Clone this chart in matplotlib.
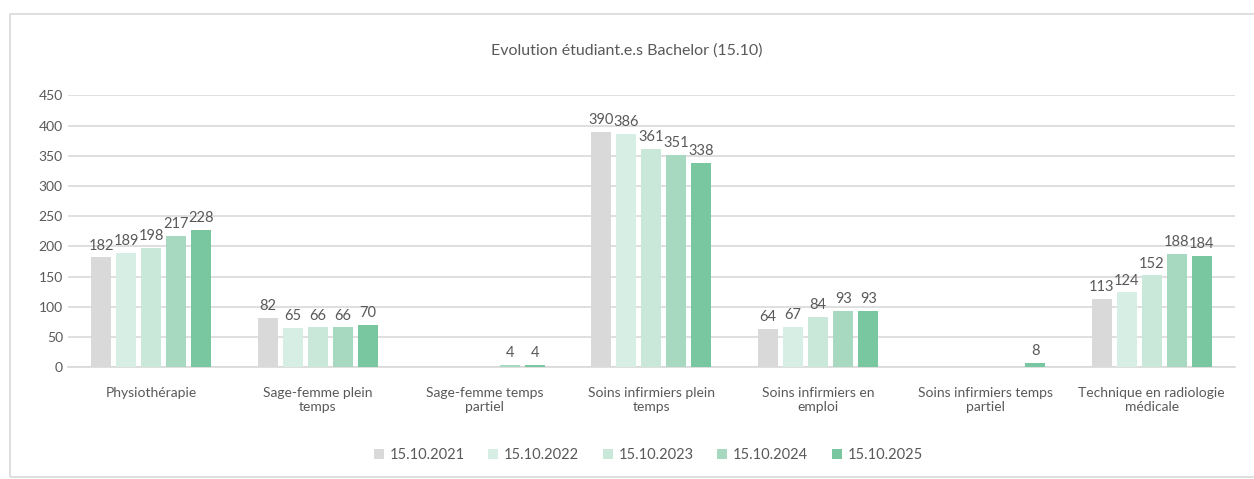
import numpy as np
import matplotlib.pyplot as plt

plt.rcParams['font.family'] = ['Lato', 'DejaVu Sans']

categories = ["Physiothérapie", "Sage-femme plein\ntemps", "Sage-femme temps\npartiel",
              "Soins infirmiers plein\ntemps", "Soins infirmiers en\nemploi",
              "Soins infirmiers temps\npartiel", "Technique en radiologie\nmédicale"]
years = ["15.10.2021", "15.10.2022", "15.10.2023", "15.10.2024", "15.10.2025"]
# None = no value in the source
v2021 = [182, 82, None, 390, 64, None, 113]
v2022 = [189, 65, None, 386, 67, None, 124]
v2023 = [198, 66, None, 361, 84, None, 152]
v2024 = [217, 66, 4, 351, 93, None, 188]
v2025 = [228, 70, 4, 338, 93, 8, 184]
series = [v2021, v2022, v2023, v2024, v2025]
colors = ["#d9d9d9", "#d6eee3", "#c9e8da", "#a6d9c0", "#79c7a0"]

txt = "#595959"
fig = plt.figure(figsize=(12.54, 4.79), dpi=100)
# outer chart frame
fig.patches.append(plt.Rectangle((0.008, 0.005), 0.995, 0.965, transform=fig.transFigure,
                                 fill=False, edgecolor="#d9d9d9", linewidth=1.2))
ax = fig.add_axes([0.054, 0.233, 0.931, 0.568])

x = np.arange(len(categories))
w = 0.12
step = 0.15
for i, (vals, c, lab) in enumerate(zip(series, colors, years)):
    pos = x + (i - 2) * step
    h = [np.nan if v is None else v for v in vals]
    ax.bar(pos, h, width=w, color=c, label=lab, zorder=3)
    for p, v in zip(pos, vals):
        if v is not None:
            ax.text(p, v + 8, str(v), ha="center", va="bottom", fontsize=10.5, color=txt)

ax.set_xlim(-0.5, len(categories) - 0.5)
ax.set_ylim(0, 450)
ax.set_yticks(range(0, 451, 50))
ax.yaxis.grid(True, color="#d9d9d9", linewidth=1.2, zorder=0)
for s in ["top", "right", "left"]:
    ax.spines[s].set_visible(False)
ax.spines["bottom"].set_color("#d9d9d9")
ax.spines["bottom"].set_linewidth(1.2)
ax.tick_params(axis="both", length=0, colors=txt, labelsize=10)
ax.set_xticks(x)
ax.set_xticklabels(categories, color=txt, fontsize=10)
ax.tick_params(axis="x", pad=14)

fig.text(0.5, 0.895, "Evolution étudiant.e.s Bachelor (15.10)", ha="center", va="center",
         fontsize=11.5, color=txt)
fig.legend(loc="center", bbox_to_anchor=(0.517, 0.05), ncol=5, frameon=False,
           fontsize=10.5, handlelength=0.7, handleheight=0.7, columnspacing=1.6,
           handletextpad=0.4, labelcolor=txt)

plt.savefig("out.png", dpi=100)
